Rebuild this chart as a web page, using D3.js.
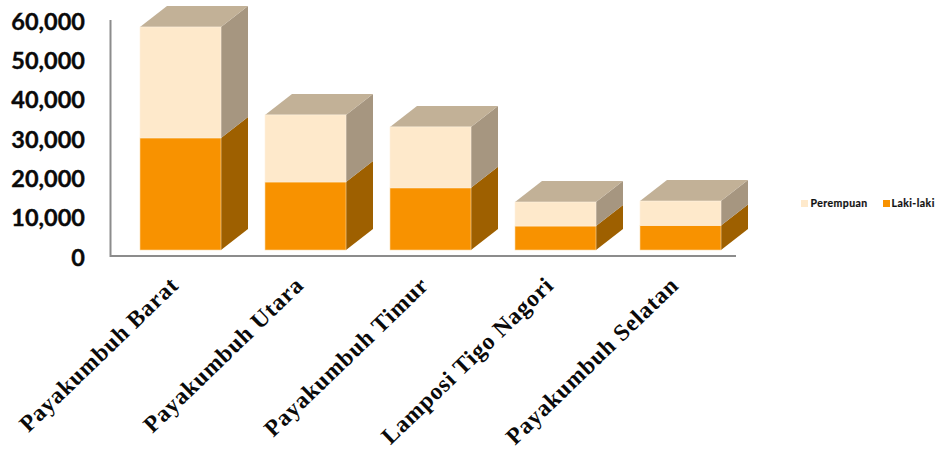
<!DOCTYPE html>
<html>
<head>
<meta charset="utf-8">
<script src="https://cdn.jsdelivr.net/npm/d3@7"></script>
<style>
    body { margin: 0; background: #fff; }
    svg { display: block; }
    .yTicks text { font-family: Lato, sans-serif; font-weight: 700; font-size: 23.5px; fill: #0a0a0a; stroke: #0a0a0a; stroke-width: 0.35px; }
    .xLabels text { font-family: "Liberation Serif", serif; font-weight: 700; font-size: 23.5px; letter-spacing: 0.8px; fill: #0a0a0a; }
    .legend text { font-family: Lato, sans-serif; font-weight: 700; font-size: 10.5px; letter-spacing: 0.45px; fill: #111; stroke: #111; stroke-width: 0.2px; }
</style>
</head>
<body>
<svg id="chart" width="936" height="453"></svg>
<script>
const kecamatan = ["Payakumbuh Barat", "Payakumbuh Utara", "Payakumbuh Timur", "Lamposi Tigo Nagori", "Payakumbuh Selatan"];
const lakiLaki = [28500, 17300, 15800, 6100, 6250];
const perempuan = [28200, 17050, 15500, 6100, 6200];
const yTickValues = [0, 10000, 20000, 30000, 40000, 50000, 60000];
const legendLabels = ["Perempuan", "Laki-laki"];

const svg = d3.select("svg#chart");

// depth of the fake 3d boxes
const depthX = 27;
const depthY = 21;

const xScale = d3.scaleBand().domain(kecamatan).range([118, 743]).paddingInner(0.352).paddingOuter(0.176);
const yScale = d3.scaleLinear().domain([0, 60000]).range([250, 14]);
const yAxisScale = d3.scaleLinear().domain([0, 60000]).range([256, 20]);

const segments = [
    { name: "Laki-laki", values: lakiLaki, front: "#f89200", side: "#9e6000", top: "#9e6000", stroke: "#fbd9a5" },
    { name: "Perempuan", values: perempuan, front: "#fee9cb", side: "#a69680", top: "#c2b197", stroke: "#fdf1df" }
];

// axis lines sit behind the boxes
let annotations = svg.append("g").attr("id", "annotations");

let yAxis = d3.axisLeft(yAxisScale)
    .tickValues(yTickValues)
    .tickFormat(d3.format(","))
    .tickSize(0)
    .tickPadding(25);
let yG = annotations.append("g")
    .attr("class", "yTicks")
    .attr("transform", "translate(110,0)")
    .call(yAxis);
yG.selectAll("text").attr("dy", "0.39em");
yG.select(".domain").remove();

annotations.append("path")
    .attr("d", d3.line()([[110.5, yAxisScale(60000)], [110.5, yAxisScale(0)], [736, yAxisScale(0)]]))
    .attr("fill", "none")
    .attr("stroke", "#8c8c8c")
    .attr("stroke-width", 2);

// boxes
let bars = svg.append("g").attr("id", "bars");

kecamatan.forEach((name, i) => {
    let x0 = xScale(name);
    let x1 = x0 + xScale.bandwidth();
    let base = 0;
    segments.forEach((s, j) => {
        let low = yScale(base);
        let high = yScale(base + s.values[i]);
        let g = bars.append("g").attr("class", "segment");

        g.append("polygon")
            .attr("points", [[x1, low], [x1 + depthX, low - depthY], [x1 + depthX, high - depthY], [x1, high]].join(" "))
            .attr("fill", s.side);

        // only the top segment shows its lid
        if (j === segments.length - 1) {
            g.append("polygon")
                .attr("points", [[x0, high], [x0 + depthX, high - depthY], [x1 + depthX, high - depthY], [x1, high]].join(" "))
                .attr("fill", s.top);
        }

        g.append("rect")
            .attr("x", x0)
            .attr("y", high)
            .attr("width", x1 - x0)
            .attr("height", low - high)
            .attr("fill", s.front)
            .attr("stroke", s.stroke)
            .attr("stroke-width", 0.6);

        base += s.values[i];
    });
});

// rotated category labels, right end near the box centre
let labels = svg.append("g").attr("class", "xLabels");
labels.selectAll("text")
    .data(kecamatan)
    .join("text")
    .attr("text-anchor", "end")
    .attr("transform", d => `translate(${xScale(d) + xScale.bandwidth() / 2 - 12},275) rotate(-44)`)
    .attr("dy", "0.7em")
    .text(d => d);

// legend
const legendColors = { "Perempuan": "#fee9cb", "Laki-laki": "#f89200" };
const legendX = d3.scaleOrdinal().domain(legendLabels).range([801, 883]);
let legend = svg.append("g").attr("class", "legend");
legendLabels.forEach(name => {
    legend.append("rect")
        .attr("x", legendX(name))
        .attr("y", 200)
        .attr("width", 7)
        .attr("height", 7)
        .attr("fill", legendColors[name]);
    legend.append("text")
        .attr("x", legendX(name) + (name === "Perempuan" ? 9.5 : 8.5))
        .attr("y", 207)
        .text(name);
});
</script>
</body>
</html>
